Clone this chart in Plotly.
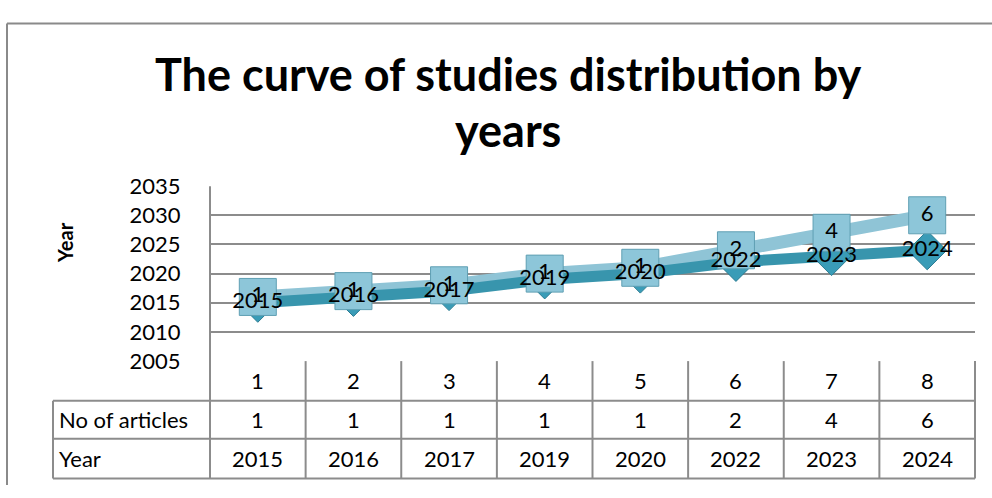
import plotly.graph_objects as go

categories = [1, 2, 3, 4, 5, 6, 7, 8]
articles = [1, 1, 1, 1, 1, 2, 4, 6]
years = [2015, 2016, 2017, 2019, 2020, 2022, 2023, 2024]
y_ticks = [2005, 2010, 2015, 2020, 2025, 2030, 2035]
title_lines = ["The curve of studies distribution by", "years"]
row_labels = ["No of articles", "Year"]

W, H = 992, 498
stacked = [y + a for y, a in zip(years, articles)]

def px(x):
    return x / W

def py(y):
    return 1 - y / H

X0, X1 = 210, 975
Y_TOP, Y_BOT = 182, 367
ROW1_BOT, ROW2_BOT, ROW3_BOT = 409, 449, 491
TABLE_LEFT = 53

FONT = "Lato, Carlito, Calibri, sans-serif"
GRID = "#8c8c8c"

fig = go.Figure()

LIGHT_LINE = "#8fc4d6"
DARK_LINE = "#3895ad"

fig.add_trace(go.Scatter(x=categories, y=stacked, mode="lines",
                         line=dict(color=LIGHT_LINE, width=13), hoverinfo="skip"))
fig.add_trace(go.Scatter(x=categories, y=years, mode="lines",
                         line=dict(color=DARK_LINE, width=11), hoverinfo="skip"))
fig.add_trace(go.Scatter(x=categories, y=years, mode="markers",
                         marker=dict(symbol="diamond", size=30, color="#3a9cb7",
                                     line=dict(color="#2b7c92", width=1)), hoverinfo="skip"))
fig.add_trace(go.Scatter(x=categories, y=stacked, mode="markers",
                         marker=dict(symbol="square", size=37, color="#8dc6d9",
                                     line=dict(color="#5f9fb3", width=1)), hoverinfo="skip"))
fig.add_trace(go.Scatter(x=categories, y=stacked, mode="text",
                         text=[str(a) for a in articles], textposition="middle center",
                         textfont=dict(family=FONT, size=22, color="black"), hoverinfo="skip"))
fig.add_trace(go.Scatter(x=categories, y=years, mode="text",
                         text=[str(y) for y in years], textposition="middle center",
                         textfont=dict(family=FONT, size=22, color="black"), hoverinfo="skip"))

shapes = []
# outer border
shapes.append(dict(type="line", xref="paper", yref="paper", x0=px(7), x1=px(992), y0=py(10), y1=py(10),
                   line=dict(color="#8a8a8a", width=2)))
shapes.append(dict(type="line", xref="paper", yref="paper", x0=px(7), x1=px(7), y0=py(10), y1=py(498),
                   line=dict(color="#8a8a8a", width=2)))
# plot left border
shapes.append(dict(type="line", xref="paper", yref="paper", x0=px(X0), x1=px(X0), y0=py(Y_TOP), y1=py(ROW1_BOT),
                   line=dict(color=GRID, width=2)))
# table lines
ncat = len(categories)
cw = (X1 - X0) / ncat
for i in range(1, ncat + 1):
    xx = X0 + i * cw
    shapes.append(dict(type="line", xref="paper", yref="paper", x0=px(xx), x1=px(xx), y0=py(Y_BOT), y1=py(ROW3_BOT),
                       line=dict(color=GRID, width=2)))
shapes.append(dict(type="line", xref="paper", yref="paper", x0=px(X0), x1=px(X0), y0=py(ROW1_BOT), y1=py(ROW3_BOT),
                   line=dict(color=GRID, width=2)))
shapes.append(dict(type="line", xref="paper", yref="paper", x0=px(TABLE_LEFT), x1=px(TABLE_LEFT), y0=py(ROW1_BOT), y1=py(ROW3_BOT),
                   line=dict(color=GRID, width=2)))
for yy in (ROW1_BOT, ROW2_BOT, ROW3_BOT):
    shapes.append(dict(type="line", xref="paper", yref="paper", x0=px(TABLE_LEFT), x1=px(X1), y0=py(yy), y1=py(yy),
                       line=dict(color=GRID, width=2)))

annotations = []
for i, t in enumerate(title_lines):
    annotations.append(dict(text="<b>%s</b>" % t, xref="paper", yref="paper", x=px(508), y=py(63 + 60 * i),
                            xanchor="center", yanchor="middle", showarrow=False,
                            font=dict(family=FONT, size=45, color="black")))
annotations.append(dict(text="<b>Year</b>", xref="paper", yref="paper", x=px(65), y=py(242), textangle=-90,
                        xanchor="center", yanchor="middle", showarrow=False,
                        font=dict(family=FONT, size=20, color="black")))
for i, c in enumerate(categories):
    cx = X0 + (i + 0.5) * cw
    for yy, val in ((388, c), (429, articles[i]), (470, years[i])):
        annotations.append(dict(text=str(val), xref="paper", yref="paper", x=px(cx), y=py(yy),
                                xanchor="center", yanchor="middle", showarrow=False,
                                font=dict(family=FONT, size=22, color="black")))
for lbl, yy in zip(row_labels, (429, 470)):
    annotations.append(dict(text=lbl, xref="paper", yref="paper", x=px(57), y=py(yy),
                            xanchor="left", yanchor="middle", showarrow=False,
                            font=dict(family=FONT, size=22, color="black")))

fig.update_layout(
    width=W, height=H, margin=dict(l=0, r=0, t=0, b=0),
    paper_bgcolor="white", plot_bgcolor="white", showlegend=False,
    xaxis=dict(domain=[px(X0), px(X1)], range=[0.5, ncat + 0.5], showticklabels=False,
               showgrid=False, zeroline=False, showline=False, fixedrange=True),
    yaxis=dict(domain=[py(Y_BOT), py(Y_TOP)], range=[y_ticks[0], y_ticks[-1]], tickvals=y_ticks,
               showgrid=True, gridcolor=GRID, gridwidth=2, zeroline=False, showline=False,
               ticks="outside", ticklen=24, tickcolor="rgba(0,0,0,0)",
               tickfont=dict(family=FONT, size=22, color="black"), fixedrange=True),
    shapes=shapes, annotations=annotations,
)

fig.write_html("out.html")
